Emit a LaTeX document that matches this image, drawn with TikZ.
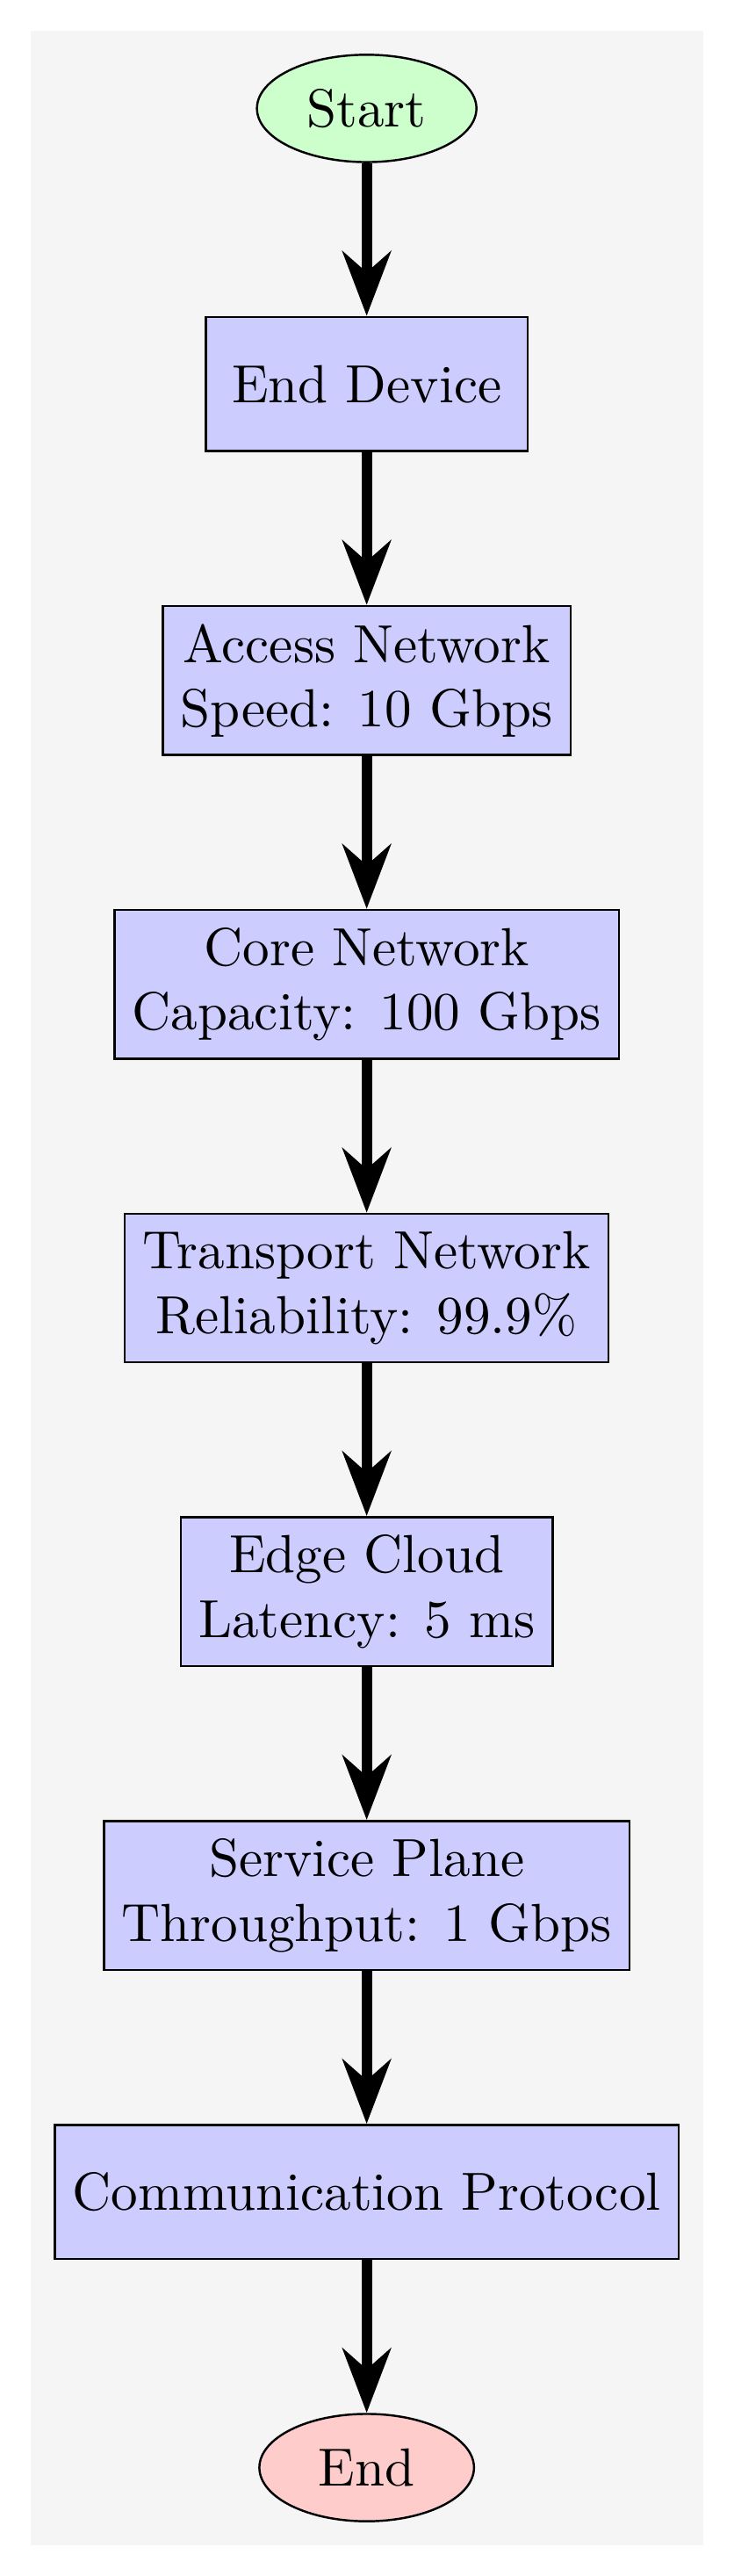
\documentclass[tikz,border=0pt]{standalone}
\usetikzlibrary{positioning,shapes.geometric,arrows.meta,backgrounds}
\begin{document}
\begin{tikzpicture}[
  node distance=1cm,
  termstart/.style={ellipse, draw, fill=green!20, minimum width=4em, minimum height=2em},
  termend/.style={ellipse, draw, fill=red!20, minimum width=4em, minimum height=2em},
  procbox/.style={rectangle, draw, fill=blue!20, minimum width=6em, minimum height=2.5em, align=center},
  flowarrow/.style={-{Stealth}, line width=2pt}
]
\node[termstart] (start) {Start};
\node[procbox, below=of start] (enddev) {End Device};
\node[procbox, below=of enddev] (access) {Access Network\\Speed: 10 Gbps};
\node[procbox, below=of access] (core) {Core Network\\Capacity: 100 Gbps};
\node[procbox, below=of core] (transport) {Transport Network\\Reliability: 99.9\%};
\node[procbox, below=of transport] (edge) {Edge Cloud\\Latency: 5 ms};
\node[procbox, below=of edge] (service) {Service Plane\\Throughput: 1 Gbps};
\node[procbox, below=of service] (proto) {Communication Protocol};
\node[termend, below=of proto] (stop) {End};
\foreach \a/\b in {start/enddev, enddev/access, access/core, core/transport, transport/edge, edge/service, service/proto, proto/stop}
  \draw[flowarrow] (\a) -- (\b);
\begin{scope}[on background layer]
  \coordinate (bgsw) at ([shift={(-1ex,-1ex)}]current bounding box.south west);
  \coordinate (bgne) at ([shift={(1ex,1ex)}]current bounding box.north east);
  \fill[gray!8] (bgsw) rectangle (bgne);
\end{scope}
\useasboundingbox ([shift={(-2mm,-2mm)}]bgsw) rectangle ([shift={(2mm,2mm)}]bgne);
\end{tikzpicture}
\end{document}
